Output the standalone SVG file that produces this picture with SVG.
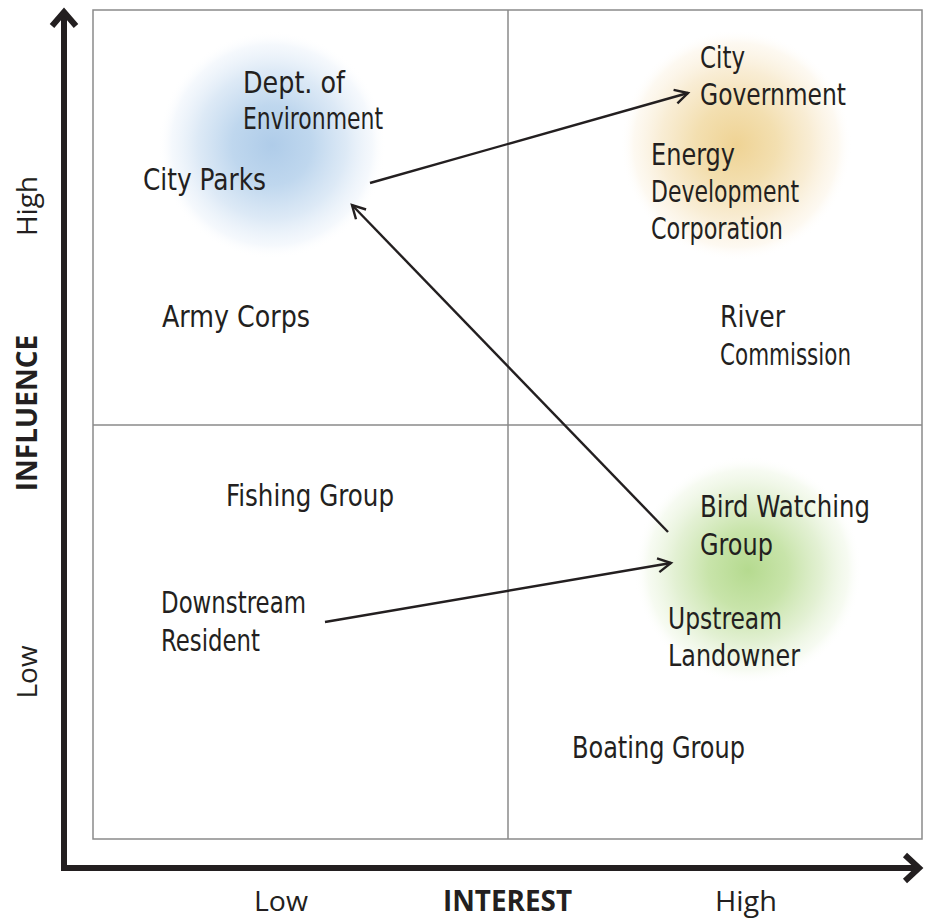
<svg xmlns="http://www.w3.org/2000/svg" width="929" height="919" viewBox="0 0 929 919">
<defs>
<radialGradient id="gBlue"><stop offset="0" stop-color="#afcce9"/><stop offset="0.35" stop-color="#bfd7ee"/><stop offset="0.65" stop-color="#d9e7f5" stop-opacity="0.9"/><stop offset="0.88" stop-color="#eef4fb" stop-opacity="0.6"/><stop offset="1" stop-color="#ffffff" stop-opacity="0"/></radialGradient>
<radialGradient id="gOrange"><stop offset="0" stop-color="#efd394"/><stop offset="0.35" stop-color="#f3dfb0"/><stop offset="0.65" stop-color="#f8ebd0" stop-opacity="0.9"/><stop offset="0.88" stop-color="#fcf5e8" stop-opacity="0.6"/><stop offset="1" stop-color="#ffffff" stop-opacity="0"/></radialGradient>
<radialGradient id="gGreen"><stop offset="0" stop-color="#b5da8f"/><stop offset="0.35" stop-color="#c8e4aa"/><stop offset="0.65" stop-color="#e0efcf" stop-opacity="0.9"/><stop offset="0.88" stop-color="#f1f8e9" stop-opacity="0.6"/><stop offset="1" stop-color="#ffffff" stop-opacity="0"/></radialGradient>
<marker id="ah" viewBox="0 0 20 20" refX="17" refY="10" markerWidth="20" markerHeight="20" markerUnits="userSpaceOnUse" orient="auto">
<path d="M4,3 L17,10 L4,17" fill="none" stroke="#231f20" stroke-width="2.4"/>
</marker>
</defs>
<style>
.hand{font-family:"DejaVu Sans Condensed","DejaVu Sans",sans-serif;font-stretch:condensed;font-weight:200;font-size:30px;fill:#231f20}
.ax{font-family:"Open Sans","Noto Sans",sans-serif;font-size:28px;fill:#231f20}
.axb{font-family:"Open Sans","Noto Sans",sans-serif;font-size:28px;font-weight:bold;fill:#231f20}
.grid{stroke:#8a8a8a;stroke-width:1.5;fill:none}
.axis{stroke:#231f20;stroke-width:6;fill:none}
.conn{stroke:#231f20;stroke-width:2.4;fill:none}
</style>
<rect width="929" height="919" fill="#ffffff"/>
<g id="grid">
<rect class="grid" x="93" y="10" width="829" height="829"/>
<line class="grid" x1="508" y1="10" x2="508" y2="839"/>
<line class="grid" x1="93" y1="425" x2="922" y2="425"/>
</g>
<g id="blobs">
<circle cx="272" cy="145" r="114" fill="url(#gBlue)"/>
<circle cx="736" cy="145" r="116" fill="url(#gOrange)"/>
<circle cx="748" cy="570" r="114" fill="url(#gGreen)"/>
</g>
<g id="axes">
<path class="axis" d="M64,868 L64,13"/>
<path class="axis" d="M52,26 L64,12 L76,26"/>
<path class="axis" d="M61,868 L918,868"/>
<path class="axis" d="M905,855 L919,868 L905,881"/>
<text class="ax" x="254" y="911" textLength="54" lengthAdjust="spacingAndGlyphs">Low</text>
<text class="axb" x="443" y="911" textLength="129" lengthAdjust="spacingAndGlyphs">INTEREST</text>
<text class="ax" x="715" y="911" textLength="62" lengthAdjust="spacingAndGlyphs">High</text>
<text class="ax" transform="translate(37,206) rotate(-90)" text-anchor="middle">High</text>
<text class="axb" transform="translate(37,413) rotate(-90)" text-anchor="middle">INFLUENCE</text>
<text class="ax" transform="translate(37,672) rotate(-90)" text-anchor="middle">Low</text>
</g>
<g id="connectors">
<line class="conn" x1="370" y1="183" x2="688" y2="93" marker-end="url(#ah)"/>
<line class="conn" x1="668" y1="532" x2="352" y2="205" marker-end="url(#ah)"/>
<line class="conn" x1="325" y1="622" x2="671" y2="563" marker-end="url(#ah)"/>
</g>
<g id="dept-env"><text class="hand" x="243" y="93" textLength="102" lengthAdjust="spacingAndGlyphs">Dept. of</text><text class="hand" x="243" y="129" textLength="140" lengthAdjust="spacingAndGlyphs">Environment</text></g>
<g id="city-parks"><text class="hand" x="143" y="190" textLength="123" lengthAdjust="spacingAndGlyphs">City Parks</text></g>
<g id="army-corps"><text class="hand" x="162" y="327" textLength="148" lengthAdjust="spacingAndGlyphs">Army Corps</text></g>
<g id="city-gov"><text class="hand" x="700" y="68" textLength="45" lengthAdjust="spacingAndGlyphs">City</text><text class="hand" x="700" y="105" textLength="146" lengthAdjust="spacingAndGlyphs">Government</text></g>
<g id="energy"><text class="hand" x="651" y="165" textLength="84" lengthAdjust="spacingAndGlyphs">Energy</text><text class="hand" x="651" y="202" textLength="148" lengthAdjust="spacingAndGlyphs">Development</text><text class="hand" x="651" y="239" textLength="132" lengthAdjust="spacingAndGlyphs">Corporation</text></g>
<g id="river"><text class="hand" x="720" y="327" textLength="65" lengthAdjust="spacingAndGlyphs">River</text><text class="hand" x="720" y="365" textLength="131" lengthAdjust="spacingAndGlyphs">Commission</text></g>
<g id="fishing"><text class="hand" x="226" y="506" textLength="168" lengthAdjust="spacingAndGlyphs">Fishing Group</text></g>
<g id="bird"><text class="hand" x="700" y="517" textLength="170" lengthAdjust="spacingAndGlyphs">Bird Watching</text><text class="hand" x="700" y="555" textLength="73" lengthAdjust="spacingAndGlyphs">Group</text></g>
<g id="downstream"><text class="hand" x="161" y="613" textLength="145" lengthAdjust="spacingAndGlyphs">Downstream</text><text class="hand" x="161" y="651" textLength="99" lengthAdjust="spacingAndGlyphs">Resident</text></g>
<g id="upstream"><text class="hand" x="668" y="629" textLength="114" lengthAdjust="spacingAndGlyphs">Upstream</text><text class="hand" x="668" y="666" textLength="132" lengthAdjust="spacingAndGlyphs">Landowner</text></g>
<g id="boating"><text class="hand" x="572" y="758" textLength="173" lengthAdjust="spacingAndGlyphs">Boating Group</text></g>
</svg>
